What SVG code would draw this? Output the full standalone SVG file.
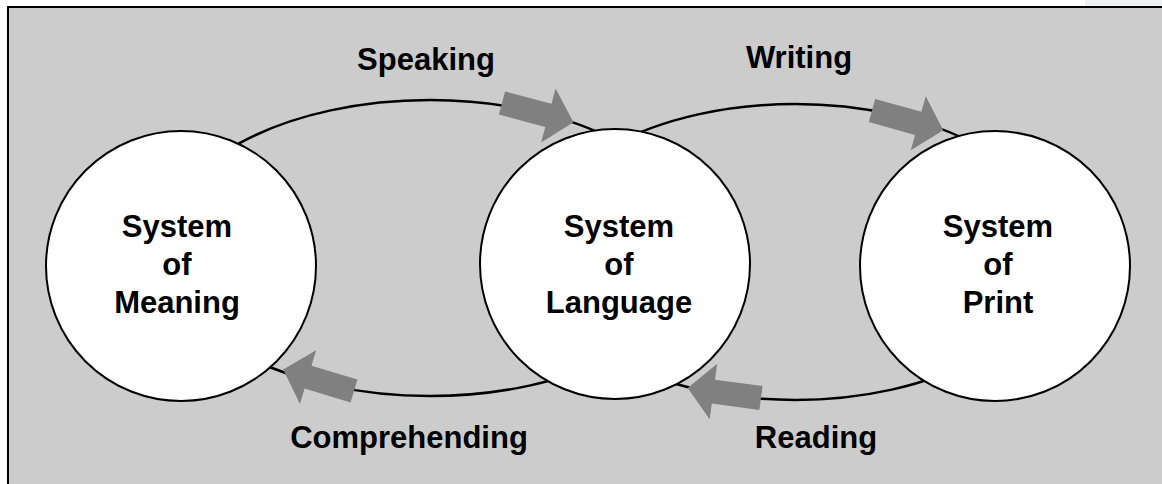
<svg xmlns="http://www.w3.org/2000/svg" width="1162" height="484" viewBox="0 0 1162 484">
  <defs>
    <style>
      .frame { fill: #cccccc; stroke: #000000; stroke-width: 2; }
      .loop { fill: none; stroke: #000000; stroke-width: 2.5; }
      .node { fill: #ffffff; stroke: #000000; stroke-width: 2; }
      .arrow { fill: #808080; stroke: none; }
      text { font-family: "Liberation Sans", Arial, Helvetica, sans-serif; font-weight: bold; font-size: 31px; fill: #000000; text-anchor: middle; }
    </style>
    <polygon id="blockArrow" points="0,-12 48,-12 48,-28 74,0 48,28 48,12 0,12"/>
  </defs>

  <rect x="0" y="0" width="1162" height="484" fill="#ffffff"/>
  <rect x="1085" y="0" width="77" height="7" fill="#eef2f5"/>
  <rect class="frame" x="8" y="7" width="1170" height="490"/>

  <g id="connectors">
    <ellipse class="loop" cx="430" cy="248" rx="270" ry="148"/>
    <ellipse class="loop" cx="795" cy="252" rx="263" ry="148"/>
  </g>

  <g id="node-meaning">
    <circle class="node" cx="181" cy="266" r="135"/>
    <text x="177" y="237">System</text>
    <text x="177" y="275">of</text>
    <text x="177" y="313">Meaning</text>
  </g>
  <g id="node-language">
    <circle class="node" cx="615" cy="264" r="135"/>
    <text x="619" y="237">System</text>
    <text x="619" y="275">of</text>
    <text x="619" y="313">Language</text>
  </g>
  <g id="node-print">
    <circle class="node" cx="995" cy="266" r="135"/>
    <text x="998" y="237">System</text>
    <text x="998" y="275">of</text>
    <text x="998" y="313">Print</text>
  </g>

  <g id="arrows">
    <use href="#blockArrow" class="arrow" transform="translate(502,103) rotate(15)"/>
    <use href="#blockArrow" class="arrow" transform="translate(872,110.5) rotate(15.5)"/>
    <use href="#blockArrow" class="arrow" transform="translate(354,391) rotate(196.8)"/>
    <use href="#blockArrow" class="arrow" transform="translate(761,398) rotate(187.7)"/>
  </g>

  <g id="labels">
    <text x="426" y="70">Speaking</text>
    <text x="799" y="68">Writing</text>
    <text x="409" y="448">Comprehending</text>
    <text x="816" y="448">Reading</text>
  </g>
</svg>
